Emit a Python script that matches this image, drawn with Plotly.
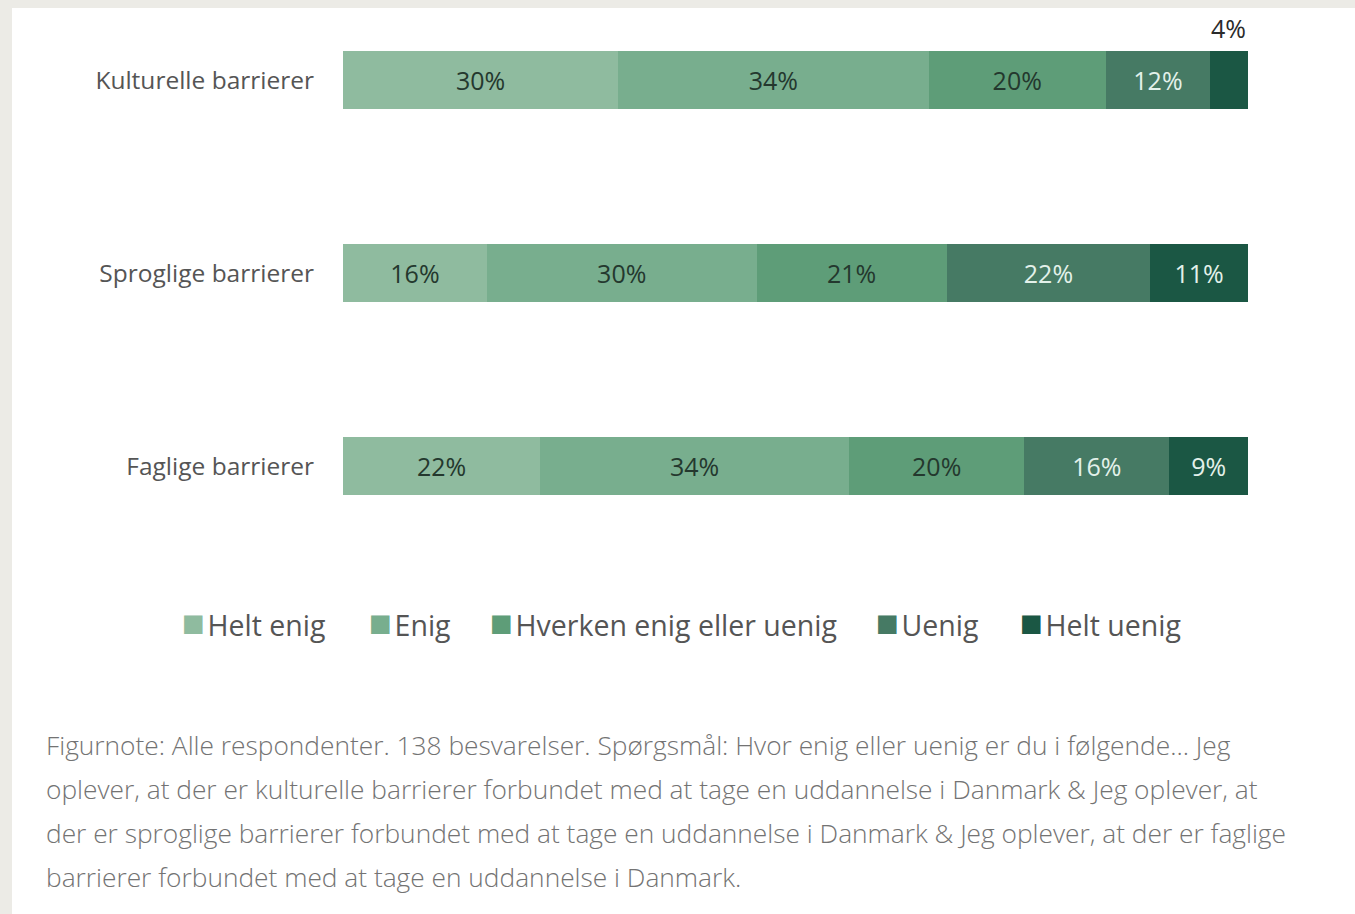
import plotly.graph_objects as go

categories = ["Kulturelle barrierer", "Sproglige barrierer", "Faglige barrierer"]
series_names = ["Helt enig", "Enig", "Hverken enig eller uenig", "Uenig", "Helt uenig"]
# Segment shares (percent)
values = {
    "Helt enig": [30.4, 15.9, 21.8],
    "Enig": [34.3, 29.8, 34.1],
    "Hverken enig eller uenig": [19.6, 21.0, 19.4],
    "Uenig": [11.5, 22.5, 16.0],
    "Helt uenig": [4.2, 10.8, 8.7],
}
labels = {
    "Helt enig": ["30%", "16%", "22%"],
    "Enig": ["34%", "30%", "34%"],
    "Hverken enig eller uenig": ["20%", "21%", "20%"],
    "Uenig": ["12%", "22%", "16%"],
    "Helt uenig": ["4%", "11%", "9%"],
}
colors = ["#8fbb9f", "#78ae8e", "#5e9d78", "#467a64", "#1b5744"]
text_colors = ["#24382e", "#24382e", "#24382e", "#e3f1ea", "#e3f1ea"]

footnote_lines = [
    "Figurnote: Alle respondenter. 138 besvarelser. Spørgsmål: Hvor enig eller uenig er du i følgende... Jeg",
    "oplever, at der er kulturelle barrierer forbundet med at tage en uddannelse i Danmark & Jeg oplever, at",
    "der er sproglige barrierer forbundet med at tage en uddannelse i Danmark & Jeg oplever, at der er faglige",
    "barrierer forbundet med at tage en uddannelse i Danmark.",
]

FONT = "Open Sans"
fig = go.Figure()
for name, col, tcol in zip(series_names, colors, text_colors):
    txt = [t if v >= 6 else "" for t, v in zip(labels[name], values[name])]
    fig.add_trace(go.Bar(
        name=name, y=categories, x=values[name], orientation="h",
        marker=dict(color=col, line=dict(width=0)),
        text=txt, textposition="inside", insidetextanchor="middle",
        textfont=dict(family=FONT, size=25, color=tcol),
        width=0.3, hoverinfo="skip", showlegend=False,
    ))

# small segments labelled above the bar
for i, cat in enumerate(categories):
    total = sum(values[n][i] for n in series_names)
    for n in series_names:
        if values[n][i] < 6:
            fig.add_annotation(x=total, y=cat, xref="x", yref="y", text=labels[n][i],
                               showarrow=False, xanchor="right", yanchor="middle", yshift=52,
                               font=dict(family=FONT, size=25, color="#2b2b2b"))

W, H = 1355, 914
L, R, T, B = 343, 107, 20, 354
pw = W - L - R
ph = H - T - B


def px_x(p):
    return (p - L) / pw


def px_y(p):
    return (H - B - p) / ph


fig.update_layout(
    width=W, height=H, barmode="stack",
    margin=dict(l=L, r=R, t=T, b=B),
    paper_bgcolor="#ecebe6", plot_bgcolor="rgba(0,0,0,0)",
    showlegend=False,
    xaxis=dict(range=[0, 100], visible=False, fixedrange=True),
    yaxis=dict(categoryorder="array", categoryarray=categories,
               range=[2 + (H - B - 466) / 193, -(80 - T) / 193],
               showgrid=False, zeroline=False, showline=False, ticks="",
               ticklabelstandoff=28,
               tickfont=dict(family=FONT, size=24.5, color="#555555")),
    font=dict(family=FONT),
)
# white card on the light grey page background
fig.add_shape(type="rect", xref="paper", yref="paper",
              x0=px_x(12), x1=px_x(W + 5), y0=px_y(H + 5), y1=px_y(8),
              fillcolor="white", line=dict(width=0), layer="below")

# legend (one entry per series, colour square + name)
legend_x = [180, 367, 488, 874, 1018]
for name, col, lx in zip(series_names, colors, legend_x):
    fig.add_annotation(xref="paper", yref="paper", x=px_x(lx), y=px_y(621),
                       xanchor="left", yanchor="middle", showarrow=False,
                       text=(f"<span style='color:{col};font-size:38px'>■</span>"
                             f"<span style='font-size:10px'> </span>{name}"),
                       font=dict(family=FONT, size=28.5, color="#555555"))

for k, line in enumerate(footnote_lines):
    fig.add_annotation(xref="paper", yref="paper", x=px_x(44),
                       y=px_y(745 + 44 * k), xanchor="left", yanchor="middle",
                       text=line, showarrow=False,
                       font=dict(family=FONT, size=26.3, weight=300, color="#737373"))

fig.write_html("out.html", config={"displayModeBar": False},
               post_script="document.body.style.margin='0';document.body.style.overflow='hidden';")
